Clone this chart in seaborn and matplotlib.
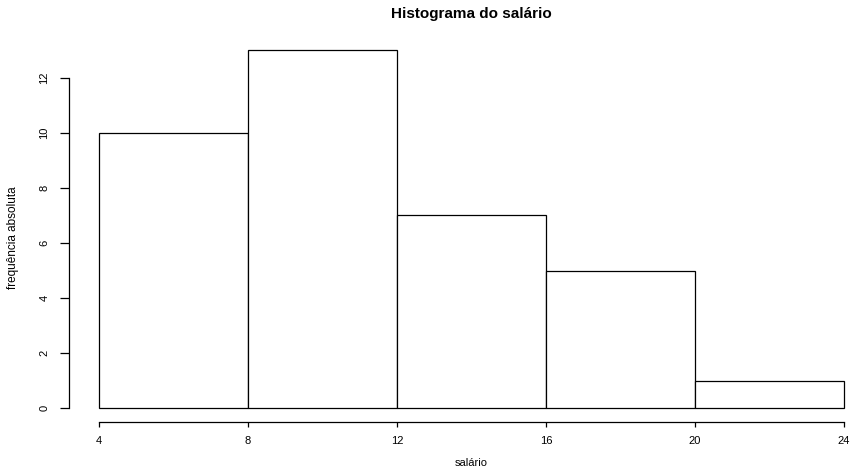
import matplotlib
matplotlib.use("Agg")
import matplotlib.pyplot as plt
import seaborn as sns
import numpy as np

bin_edges = [4, 8, 12, 16, 20, 24]
counts = [10, 13, 7, 5, 1]
x_ticks = [4, 8, 12, 16, 20, 24]
y_ticks = [0, 2, 4, 6, 8, 10, 12]

sns.set_style("white")
plt.rcParams['font.family'] = ['Liberation Sans', 'DejaVu Sans']
plt.rcParams['text.color'] = 'black'
plt.rcParams['xtick.color'] = 'black'
plt.rcParams['ytick.color'] = 'black'
plt.rcParams['axes.labelcolor'] = 'black'

W, H = 853, 467
fig = plt.figure(figsize=(W / 100, H / 100), dpi=100)
# plot region in pixels (R style with 4% extension)
px_per_x = (844 - 99) / 20.0
px_per_y = (408 - 78) / 12.0
xmin, xmax = 3.2, 24.8
ymin, ymax = -0.52, 13.52
left = 99 - (4 - xmin) * px_per_x
right = 844 + (xmax - 24) * px_per_x
bottom = 408 + (0 - ymin) * px_per_y
top = 408 - ymax * px_per_y
ax = fig.add_axes([left / W, 1 - bottom / H, (right - left) / W, (bottom - top) / H])

mids = [(bin_edges[i] + bin_edges[i + 1]) / 2 for i in range(len(counts))]
sns.histplot(x=mids, weights=counts, bins=bin_edges, ax=ax,
             color="white", edgecolor="black", linewidth=0.9, alpha=1)

ax.set_xlim(xmin, xmax)
ax.set_ylim(ymin, ymax)
for s in ["top", "right"]:
    ax.spines[s].set_visible(False)
for s in ["left", "bottom"]:
    ax.spines[s].set_color("black")
    ax.spines[s].set_linewidth(0.9)
ax.spines["bottom"].set_bounds(4, 24)
ax.spines["left"].set_bounds(0, 12)

ax.set_xticks(x_ticks)
ax.set_xticklabels([str(v) for v in x_ticks])
ax.set_yticks(y_ticks)
ax.set_yticklabels([str(v) for v in y_ticks], rotation=90, va="center")
ax.tick_params(axis="x", direction="out", length=3.6, width=0.9, color="black",
               labelsize=8, pad=6.5, bottom=True, labelcolor="black")
ax.tick_params(axis="y", direction="out", length=6.2, width=0.9, color="black",
               labelsize=8, pad=8, left=True, labelcolor="black")

ax.set_xlabel("")
ax.set_ylabel("")
fig.text((99 + 844) / 2 / W, 1 - 463 / H, "salário", ha="center", va="center",
         fontsize=8, color="black")
fig.text(13 / W, 1 - 238 / H, "frequência absoluta", ha="center", va="center",
         fontsize=8.5, rotation=90, color="black")
fig.text((69 + 874) / 2 / W, 1 - 14 / H, "Histograma do salário", ha="center", va="center",
         fontsize=11, fontweight="bold", color="black")

fig.savefig("out.png", dpi=100, facecolor="white")
